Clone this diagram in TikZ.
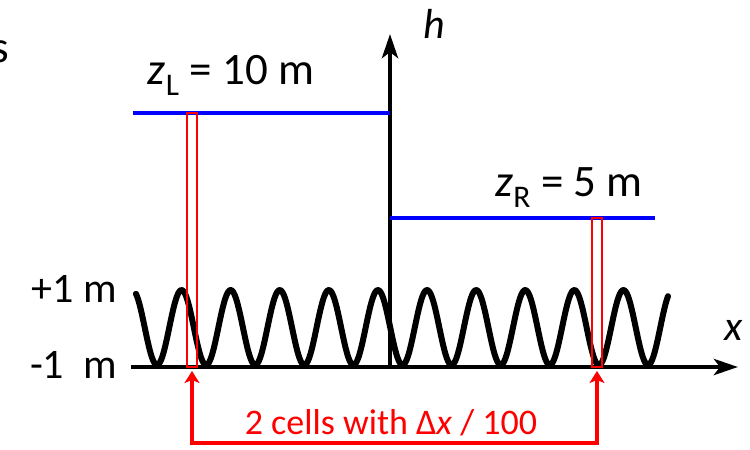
\documentclass[tikz,border=0pt]{standalone}
\usepackage{fontspec}
\setmainfont{Carlito}
\usetikzlibrary{arrows.meta}
\begin{document}
\begin{tikzpicture}[x=1pt,y=-1pt,
  lab/.style={inner sep=0pt, font=\fontsize{45}{48}\selectfont},
  sidelab/.style={inner sep=0pt, font=\fontsize{42}{46}\selectfont},
  axislab/.style={inner sep=0pt, font=\fontsize{42}{46}\selectfont\itshape},
  redlab/.style={inner sep=0pt, text=red, font=\fontsize{36}{40}\selectfont},
  axis/.style={line width=4.5pt, -{Stealth[length=24pt,width=16pt,inset=6pt]}},
  level/.style={draw=blue, line width=4pt},
  cell/.style={draw=red, line width=2pt},
  redarrow/.style={draw=red, line width=4pt, {Stealth[length=12pt,width=15pt,inset=3pt]}-{Stealth[length=12pt,width=15pt,inset=3pt]}},
  wave/.style={line width=6pt, line cap=round, line join=round}]
\useasboundingbox (0,0) rectangle (750,450);
% coordinates
\coordinate (o) at (390,367);
\coordinate (xs) at (131,367);
\coordinate (xe) at (738,367);
\coordinate (he) at (390,34);
\coordinate (bl0) at (133,113);
\coordinate (bl1) at (390,113);
\coordinate (br0) at (390,218);
\coordinate (br1) at (655,218);
\coordinate (lt) at (192,371);
\coordinate (lc) at (192,443);
\coordinate (rc) at (597,443);
\coordinate (rt) at (597,371);
% wave
\draw[wave] plot[domain=136:668, samples=400, smooth] (\x, {327.5 + 37.5*cos(7.33198*(\x-157))});
% axes
\draw[axis] (xs) -- (xe);
\draw[axis] (o) -- (he);
% levels
\draw[level] (bl0) -- (bl1);
\draw[level] (br0) -- (br1);
% cells
\draw[cell] (187,113) rectangle (197,367);
\draw[cell] (592,218) rectangle (602,367);
% red arrow
\draw[redarrow] (lt) -- (lc) -- (rc) -- (rt);
% labels
\node[axislab] (hl) at (434,24) {h};
\node[axislab] (xl) at (734,330) {x};
\node[lab, anchor=base] (zl) at (231,84) {\textit{z}\textsubscript{L} = 10 m};
\node[lab, anchor=base] (zr) at (569,196) {\textit{z}\textsubscript{R} = 5 m};
\node[sidelab, anchor=base east] (p1) at (117,302) {+1 m};
\node[sidelab, anchor=base east] (m1) at (117,378) {-1~~m};
\node[redlab, anchor=base] (cl) at (391,434) {2 cells with Δ\textit{x} / 100};
\node[lab, anchor=base east] (s) at (9,62) {s};
\end{tikzpicture}
\end{document}
